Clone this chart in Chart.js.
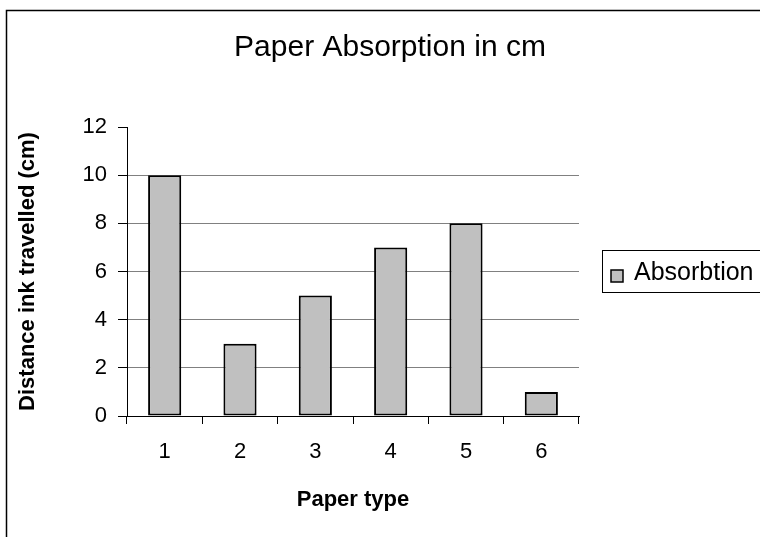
<!DOCTYPE html>
<html>
<head>
<meta charset="utf-8">
<script src="https://cdn.jsdelivr.net/npm/chart.js@4.4.1/dist/chart.umd.min.js"></script>
<style>
  html, body { margin: 0; padding: 0; background: #fff; }
  #wrap { width: 760px; height: 537px; }
</style>
</head>
<body>
<div id="wrap"><canvas id="absChart" width="760" height="537"></canvas></div>
<script>
// data
const paperTypes = ['1', '2', '3', '4', '5', '6'];
const absorption = [10, 3, 5, 7, 8, 1];
const seriesName = 'Absorbtion';
const chartTitle = 'Paper Absorption in cm';
const xTitle = 'Paper type';
const yTitle = 'Distance ink travelled (cm)';

const FONT = '"Liberation Sans", Arial, sans-serif';
const barGrey = '#C0C0C0';

// outer frame + excel style legend box (box runs off the right edge)
const frameAndLegend = {
    id: 'frameAndLegend',
    afterDraw(chart) {
        const ctx = chart.ctx;
        ctx.save();
        ctx.strokeStyle = '#000';
        ctx.lineWidth = 1.5;
        ctx.strokeRect(6.5, 10.5, 900, 700);

        // legend
        const bx = 602, by = 250, bw = 200, bh = 42;
        ctx.lineWidth = 1;
        ctx.strokeRect(bx + 0.5, by + 0.5, bw, bh);
        const ds = chart.data.datasets[0];
        ctx.fillStyle = ds.backgroundColor;
        ctx.fillRect(bx + 9, by + 20, 12, 12);
        ctx.lineWidth = 1.5;
        ctx.strokeRect(bx + 9, by + 20, 12, 12);
        ctx.fillStyle = '#000';
        ctx.font = '25px ' + FONT;
        ctx.textBaseline = 'alphabetic';
        ctx.fillText(ds.label, bx + 32, by + 30);
        ctx.restore();
    }
};

new Chart(document.getElementById('absChart'), {
    type: 'bar',
    data: {
        labels: paperTypes,
        datasets: [{
            label: seriesName,
            data: absorption,
            backgroundColor: barGrey,
            borderColor: '#000',
            borderWidth: 2,
            borderSkipped: false,
            barPercentage: 0.44,
            categoryPercentage: 1
        }]
    },
    options: {
        responsive: false,
        animation: false,
        devicePixelRatio: 1,
        // negative right padding so the title centres on the whole frame
        layout: { padding: { left: 0, right: -20, top: 0, bottom: 0 } },
        plugins: {
            legend: { display: false },
            tooltip: { enabled: false },
            title: {
                display: true,
                text: chartTitle,
                color: '#000',
                font: { family: FONT, size: 30, weight: 'normal' },
                padding: { top: 30, bottom: 61 }
            }
        },
        scales: {
            x: {
                afterFit: (s) => { s.height = 121; },
                grid: { drawOnChartArea: false, tickLength: 8, tickColor: '#000', offset: true },
                border: { color: '#000', width: 1 },
                ticks: { color: '#000', font: { family: FONT, size: 22 }, padding: 15, maxRotation: 0 },
                title: {
                    display: true,
                    text: xTitle,
                    color: '#000',
                    font: { family: FONT, size: 22, weight: 'bold' },
                    padding: { top: 0, bottom: 24 }
                }
            },
            y: {
                min: 0,
                max: 12,
                afterFit: (s) => { s.width = 127; },
                grid: {
                    tickLength: 9,
                    tickColor: '#000',
                    color: (c) => (c.tick && (c.tick.value === 0 || c.tick.value === 12)) ? 'rgba(0,0,0,0)' : '#808080'
                },
                border: { color: '#000', width: 1 },
                ticks: { stepSize: 2, color: '#000', font: { family: FONT, size: 22 }, padding: 11 },
                title: {
                    display: true,
                    text: yTitle,
                    color: '#000',
                    font: { family: FONT, size: 22, weight: 'bold' },
                    padding: { top: 15, bottom: 0 }
                }
            },
            // empty right-hand axis that keeps room for the legend
            yRoom: {
                position: 'right',
                min: 0,
                max: 12,
                afterFit: (s) => { s.width = 201; },
                grid: { display: false },
                border: { display: false },
                ticks: { display: false }
            }
        }
    },
    plugins: [frameAndLegend]
});
</script>
</body>
</html>
